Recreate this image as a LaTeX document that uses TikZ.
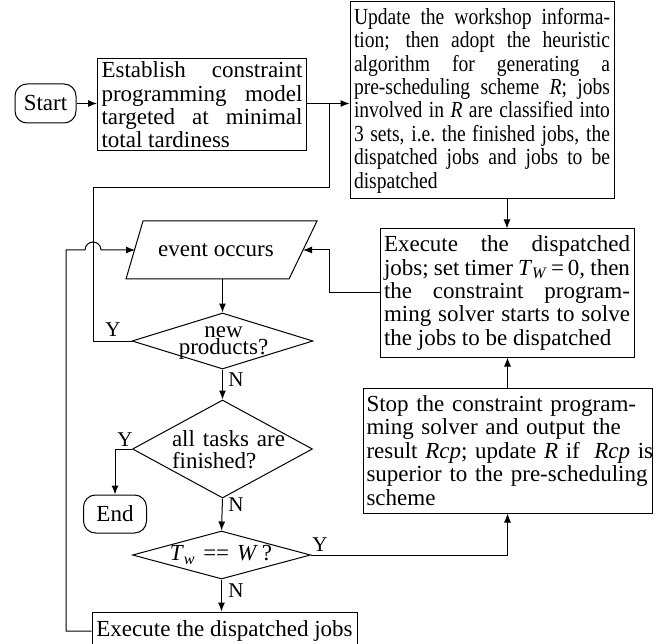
\documentclass[tikz,border=0pt]{standalone}
\usepackage{fontspec}
\setmainfont{Liberation Serif}
\newfontfamily\narrowserif[FakeStretch=0.85]{Liberation Serif}
\usetikzlibrary{arrows.meta,shapes.geometric}
\begin{document}
\begin{tikzpicture}[x=1pt,y=-1pt,line width=1pt,
  every node/.style={font=\fontsize{23}{23.4}\selectfont},
  box/.style={draw, rectangle, inner xsep=4pt, inner ysep=0pt, align=justify},
  term/.style={draw, rectangle, rounded corners=12pt, inner sep=0pt},
  dia/.style={draw, diamond, inner sep=0pt},
  lbl/.style={font=\fontsize{21}{21}\selectfont, inner sep=0pt},
  arr/.style={-{Latex[length=9pt,width=7pt]}}]
\useasboundingbox (0,0) rectangle (661,644);

% nodes
\node[term, minimum width=61pt, minimum height=39pt] (start) at (45.5,103.5) {Start};
\node[box, text width=201pt, minimum height=92pt] (b1) at (202,105)
  {Establish constraint\linebreak programming model\linebreak targeted at minimal\linebreak total tardiness};
\node[box, text width=256pt, minimum height=197pt,
  font={\narrowserif\fontsize{23}{23.4}\selectfont}] (b2) at (482,100.5)
  {Update the workshop informa-\linebreak tion; then adopt the heuristic\linebreak algorithm for generating a\linebreak pre-scheduling scheme \textit{R}; jobs\linebreak involved in \textit{R} are classified into\linebreak 3 sets, i.e.\ the finished jobs, the\linebreak dispatched jobs and jobs to be\linebreak dispatched};
\node[box, text width=246pt, minimum height=128pt] (b3) at (507,293)
  {Execute the dispatched\linebreak jobs; set timer \textit{T}\textsubscript{\textit{W}}\,=\,0, then\linebreak the constraint program-\linebreak ming solver starts to solve\linebreak the jobs to be dispatched};
\node[box, text width=282pt, inner xsep=3.5pt, minimum height=125pt, align=left] (b4) at (507.5,450.5)
  {Stop the constraint program-\\ming solver and output the\\\mbox{result \textit{Rcp}; update \textit{R} if\hspace{0.3em} \textit{Rcp} is}\\superior to the pre-scheduling\\scheme};

% event occurs (parallelogram)
\coordinate (ev1) at (143,221);
\coordinate (ev2) at (317,221);
\coordinate (ev3) at (289,279);
\coordinate (ev4) at (126,279);
\draw (ev1) -- (ev2) -- (ev3) -- (ev4) -- cycle;
\node[inner sep=0pt] (ev) at (216,250) {event occurs};
\coordinate (evr) at (303,250);
\coordinate (evl) at (135,250);
\coordinate (evb) at (222.5,279);

\node[dia, minimum width=181pt, minimum height=56pt] (d1) at (222.5,341) {};
\node[align=center, inner sep=0pt, font=\fontsize{23}{16.5}\selectfont] (t1) at (223.5,343) {new\\products?};
\node[dia, minimum width=180pt, minimum height=98pt] (d2) at (222.5,449) {};
\node[align=justify, text width=113pt, inner sep=0pt, font=\fontsize{23}{22.3}\selectfont] (t2) at (228.5,449.5) {all tasks are\linebreak finished?};
\node[term, minimum width=63pt, minimum height=38pt] (end) at (115,514) {End};
\node[dia, minimum width=178pt, minimum height=48pt] (d3) at (221.5,555) {};
\node[inner sep=0pt] (t3) at (221,555) {\textit{T}\textsubscript{\textit{w}}\hspace{0.35em}==\hspace{0.35em}\textit{W}\,?};
\node[draw, rectangle, minimum width=265pt, minimum height=38pt, inner sep=0pt] (ex) at (224.5,631) {Execute the dispatched jobs};

% labels
\node[lbl] (y1) at (113,330) {Y};
\node[lbl] (n1) at (236,380) {N};
\node[lbl] (y2) at (125,440) {Y};
\node[lbl] (n2) at (236,505) {N};
\node[lbl] (y3) at (320,545) {Y};
\node[lbl] (n3) at (236,591) {N};

% helper coordinates
\coordinate (j) at (329,103.5);
\coordinate (jb) at (329,188);
\coordinate (fy) at (93,188);
\coordinate (bx) at (329,293);
\coordinate (lx) at (66,631);
\coordinate (ly) at (66,250);
\coordinate (ja) at (85,250);

% connectors
\draw[arr] (start.east) -- (start.east -| b1.west);
\draw[arr] (b1.east |- j) -- (j -| b2.west);
\draw (d1.west) -| (fy) -- (jb) -- (j);
\draw[arr] (b3.north |- b2.south) -- (b3.north);
\draw[arr] (b3.west) -- (bx) |- (evr);
\draw[arr] (evb) -- (d1.north);
\draw[arr] (d1.south) -- (d2.north);
\draw[arr] (d2.west) -| (end.north);
\draw[arr] (d2.south) -- (d3.north);
\draw[arr] (d3.east) -| (b4.south);
\draw[arr] (b4.north) -- (b4.north |- b3.south);
\draw[arr] (d3.south) -- (d3.south |- ex.north);
\draw[arr] (ex.west) -- (lx) -- (ly) -- (ja) arc[start angle=180, end angle=0, radius=8pt] -- (evl);
\end{tikzpicture}
\end{document}
